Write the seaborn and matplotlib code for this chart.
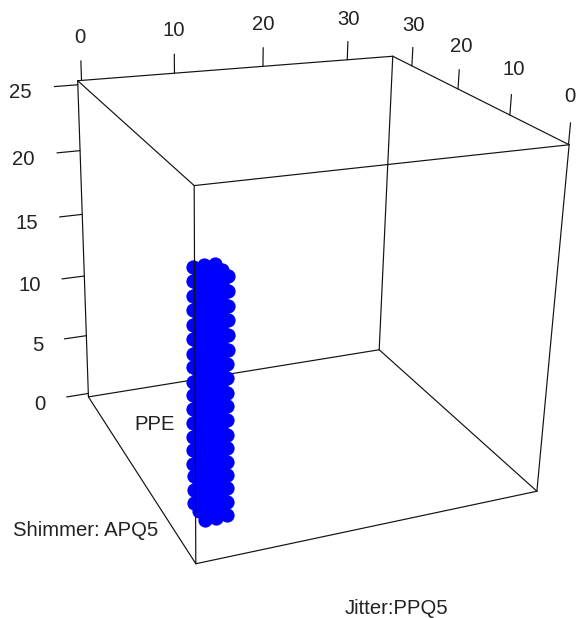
import matplotlib
matplotlib.use("Agg")
import matplotlib.pyplot as plt
import seaborn as sns
import numpy as np
import pandas as pd

# values
jitter = [0.9, 1.95, 3.0]
shimmer = [1.0, 2.5, 4.0]
ppe = [2.3, 3.3, 4.3, 5.25, 6.25, 7.2, 8.2, 9.2, 10.2, 11.15, 12.15, 13.1, 14.1, 15.1, 16.1, 17.05, 18.05, 19.0]

jitter_ticks = [0, 10, 20, 30]
shimmer_ticks = [0, 10, 20, 30]
ppe_ticks = [0, 5, 10, 15, 20, 25]

u_lim = (-0.4, 35.6)
v_lim = (-0.1, 34.5)
w_lim = (-0.3, 25.3)

# box corners on the canvas, used to calibrate the perspective
corners = [
    (u_lim[0], v_lim[1], w_lim[1], 77.7, 81.0),
    (u_lim[1], v_lim[1], w_lim[1], 393.0, 56.0),
    (u_lim[1], v_lim[0], w_lim[1], 569.0, 145.0),
    (u_lim[0], v_lim[0], w_lim[1], 194.0, 185.3),
    (u_lim[0], v_lim[1], w_lim[0], 88.4, 396.6),
    (u_lim[1], v_lim[1], w_lim[0], 379.0, 350.0),
    (u_lim[1], v_lim[0], w_lim[0], 537.0, 491.0),
    (u_lim[0], v_lim[0], w_lim[0], 196.0, 564.0),
]


def fit_camera(pts):
    rows = []
    for u, v, w, px, py in pts:
        p = [u, v, w, 1.0]
        rows.append(p + [0, 0, 0, 0] + [-px * c for c in p])
        rows.append([0, 0, 0, 0] + p + [-py * c for c in p])
    _, _, vt = np.linalg.svd(np.array(rows))
    return vt[-1].reshape(3, 4)


cam = fit_camera(corners)


def project(u, v, w):
    h = cam @ np.array([u, v, w, np.ones_like(np.asarray(u, dtype=float))], dtype=float)
    return h[0] / h[2], h[1] / h[2]


sns.set_style("white")
plt.rcParams["font.family"] = ["Liberation Sans", "DejaVu Sans"]

fig = plt.figure(figsize=(5.77, 6.18), dpi=100)
ax = fig.add_axes([0, 0, 1, 1])

uu, vv, ww = np.meshgrid(jitter, shimmer, ppe, indexing="ij")
df = pd.DataFrame({"jitter": uu.ravel(), "shimmer": vv.ravel(), "ppe": ww.ravel()})
df["px"], df["py"] = project(df["jitter"].values, df["shimmer"].values, df["ppe"].values)
sns.scatterplot(data=df, x="px", y="py", s=105, color="#0000ff", linewidth=0, ax=ax, zorder=2)


def seg(a, b, zorder=1, lw=0.85):
    x0, y0 = project(*a)
    x1, y1 = project(*b)
    ax.plot([x0, x1], [y0, y1], color="#111111", lw=lw, zorder=zorder, solid_capstyle="round")


u0, u1 = u_lim
v0, v1 = v_lim
w0, w1 = w_lim

# box edges, the front vertical edge sits above the points
for w in (w0, w1):
    seg((u0, v0, w), (u1, v0, w))
    seg((u0, v1, w), (u1, v1, w))
    seg((u0, v0, w), (u0, v1, w))
    seg((u1, v0, w), (u1, v1, w))
seg((u0, v1, w0), (u0, v1, w1))
seg((u1, v1, w0), (u1, v1, w1))
seg((u1, v0, w0), (u1, v0, w1))
seg((u0, v0, w0), (u0, v0, w1), zorder=3)

tick_z = 1.45
tick_u = 2.45
text_kw = dict(fontsize=14.6, color="#222222")

for t in jitter_ticks:
    seg((t, v1, w1), (t, v1, w1 + tick_z))
    ax.text(*project(t, v1, w1 + 2.2 * tick_z), str(t), ha="center", va="center", **text_kw)
for t in shimmer_ticks:
    seg((u1, t, w1), (u1, t, w1 + tick_z))
    x, y = project(u1, t, w1 + 2.2 * tick_z)
    # the last label would run off the right edge
    ax.text(min(x, 570), y, str(t), ha="center", va="center", **text_kw)
for t in ppe_ticks:
    seg((u0, v1, t), (u0 - tick_u, v1, t))
    x, y = project(u0 - 1.95 * tick_u, v1, t)
    ax.text(x, y + 4, str(t), ha="right", va="center", **text_kw)

ax.text(155, 425, "PPE", ha="center", va="center", **text_kw)
ax.text(86, 530, "Shimmer: APQ5", ha="center", va="center", **text_kw)
ax.text(396.5, 608, "Jitter:PPQ5", ha="center", va="center", **text_kw)

ax.set_xlim(0, 577)
ax.set_ylim(618, 0)
ax.axis("off")

fig.savefig("out.png", dpi=100, facecolor="white")
